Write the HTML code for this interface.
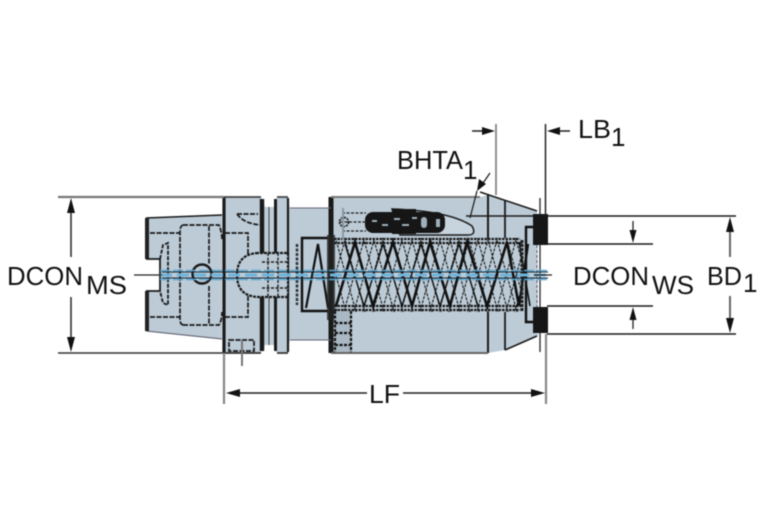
<!DOCTYPE html>
<html><head><meta charset="utf-8">
<style>
html,body{margin:0;padding:0;background:#fff;width:767px;height:523px;overflow:hidden}
svg{display:block;filter:blur(.45px)}
text{font-family:"Liberation Sans",sans-serif;fill:#111;font-size:26px}
</style></head><body>
<svg width="767" height="523" viewBox="0 0 767 523" xmlns="http://www.w3.org/2000/svg">
<defs>
<pattern id="h" x="336" y="240" width="38" height="68" patternUnits="userSpaceOnUse">
<rect width="38" height="68" fill="#bccbd6"/>
<g fill="none" stroke="#1a1a1a" stroke-width="1.1" stroke-dasharray="3 1.2">
<path d="M-19 68 L0 0 L19 68 L38 0 L57 68"/>
<path d="M-19 0 L0 68 L19 0 L38 68 L57 0"/>
<path d="M-10 68 L9 0 L28 68 L47 0"/>
<path d="M-10 0 L9 68 L28 0 L47 68"/>
</g>
</pattern>
</defs>
<!-- body fills -->
<g fill="#bccbd6">
<path d="M146 218 L222 215 L222 339 L146 331 L146 291 L160 291 L160 259 L146 259 Z"/>
<path d="M223 197 L261 197 L265 207 L274 207 L277 197 L287 197 L290 208 L331 208 L331 197 L480 197 L488 195 L537 211 L538 336 L505 350 L488 353 L331 353 L331 340 L290 340 L287 353 L277 353 L274 345 L265 345 L261 353 L223 353 Z"/>
</g>
<!-- collet outline -->
<g fill="none" stroke="#1a1a1a">
<path d="M146 218 L222 215" stroke-width="1.5"/>
<path d="M146 331 L222 339" stroke-width="1" stroke="#556"/>
<path d="M147 218 V259 M147 291 V331" stroke-width="4" stroke="#222"/>
<path d="M146 259 H160 V291 H146" stroke-width="1.8"/>
<path d="M160 259 L163 245 L168 243 V305 L163 303 L160 291" stroke-width="1.8" stroke-dasharray="4 1.5"/>
<path d="M224 197 V353" stroke-width="3.2"/>
<path d="M262 199 V351" stroke-width="4.4"/>
<path d="M275.500 199 V351" stroke-width="3"/>
<path d="M288 198 V352" stroke-width="2.2"/>
<path d="M269 207 V345" stroke-width="1" stroke="#444"/>
<path d="M331 197 V353" stroke-width="5"/>
<path d="M488 194 V353" stroke-width="2"/>
<path d="M505 200 V350" stroke-width="1.8"/>
<path d="M540 198 V352" stroke-width="1.4" stroke="#333"/>
<path d="M331 197 H480" stroke-width="2" stroke="#777"/>
<path d="M331 353 H488" stroke-width="2" stroke="#666"/>
<path d="M223 197 H261 M277 197 H288" stroke-width="1.8" stroke="#444"/>
<path d="M223 353 H261 M277 353 H288" stroke-width="1.8" stroke="#333"/>
<path d="M480 192 L537 211" stroke-width="1.6"/>
<path d="M505 350 L537 336" stroke-width="1.6"/>
<path d="M290 208 H331" stroke-width="1" stroke="#667"/>
<path d="M290 340 H331" stroke-width="1" stroke="#667"/>
</g>
<!-- dashed internals left -->
<g fill="none" stroke="#1a1a1a" stroke-width="1.7" stroke-dasharray="5 1.5">
<path d="M183 225 H219 Q222 232 222 240 M183 325 H219 Q222 320 222 312 M183 225 Q180 226 180 232 V319 Q180 325 184 325"/>
<path d="M209 226 V264 M209 286 V325 M150 233 H180 M150 317 H180"/>
<path d="M225 233 H248 V254 M225 317 H248 V296"/>
<path d="M237 214 H258 M237 214 Q244 224 262 225"/>
<path d="M229 340 H254 V351 H229 Z"/>
</g>
<circle cx="202" cy="274" r="9.5" fill="none" stroke="#1a1a1a" stroke-width="2.4"/>
<path d="M258 253 Q237 254 237 275 Q237 296 258 297 H288 V253 Z" fill="#bccbd6" stroke="#1a1a1a" stroke-width="2.2" stroke-dasharray="3 1"/>
<path d="M268 253 V297 M278 253 V297 M262 262 H288 M262 288 H288" fill="none" stroke="#222" stroke-width="1.4" stroke-dasharray="3 1.5"/>
<path d="M242 340 V366" stroke="#777" stroke-width="2"/>
<!-- spring start in neck -->
<path d="M328 238 H302 V311 H328" fill="none" stroke="#111" stroke-width="2.4"/>
<path d="M297 244 V305" stroke="#333" stroke-width="2.5" stroke-dasharray="3 1.5"/>
<path d="M306 308 L318 244 L328 308" fill="none" stroke="#111" stroke-width="2.2"/>
<rect x="327" y="235" width="8" height="85" fill="#222" opacity=".8"/>
<!-- coil band -->
<rect x="336" y="238" width="186" height="74" fill="url(#h)"/>
<g fill="none" stroke="#1a1a1a" stroke-dasharray="2.5 1">
<path d="M334 239 H520 M334 243 H522 M334 306 H522 M334 310 H520" stroke-width="2.2"/>
</g>
<path d="M336 306 L355 242 L373 306 L393 242 L412 306 L430 242 L450 306 L467 242 L487 306 L507 242 L519 306" fill="none" stroke="#111" stroke-width="2.6"/>
<path d="M345 244 L364 306 L383 244 L402 306 L421 244 L440 306 L459 244 L478 306" fill="none" stroke="#111" stroke-width="1.4"/>
<path d="M519 306 L528 244" stroke="#111" stroke-width="2.4"/>
<path d="M519 242 L530 306" stroke="#111" stroke-width="1.6"/>
<!-- right spring end -->
<path d="M534 227 H526 V322 H534" fill="none" stroke="#111" stroke-width="2.4"/>
<path d="M522 240 V312" stroke="#222" stroke-width="3" stroke-dasharray="3 1"/>
<rect x="533" y="214" width="15" height="31" fill="#161616"/>
<rect x="533" y="307" width="15" height="26" fill="#161616"/>
<path d="M537 245 V307" stroke="#556" stroke-width="1" stroke-dasharray="3 2"/>
<!-- top pocket -->
<path d="M392 209 Q450 211 472 226 Q477 235 468 235 H400 Z" fill="#c7d4de" stroke="#1a1a1a" stroke-width="1.5"/>
<rect x="365" y="212" width="80" height="21" rx="8" fill="#161616"/>
<rect x="392" y="209" width="24" height="25" fill="#161616"/>
<g fill="#9fb0bc"><rect x="372" y="220" width="5" height="2"/><rect x="382" y="224" width="6" height="2"/><rect x="394" y="218" width="6" height="2"/><rect x="402" y="224" width="7" height="2"/><rect x="412" y="217" width="5" height="2"/><rect x="421" y="217" width="6" height="11" rx="3"/><rect x="436" y="219" width="4" height="8"/></g>
<path d="M340 222 H366 M342 213 H366 M342 231 H366" stroke="#222" stroke-width="1.3" stroke-dasharray="3 1.5"/>
<circle cx="344" cy="222" r="4.500" fill="none" stroke="#222" stroke-width="1.8" stroke-dasharray="2 1"/>
<path d="M343 208 V240" stroke="#8899a5" stroke-width="2"/>
<!-- bottom left pocket -->
<rect x="334" y="311" width="18" height="41" fill="#a9b8c3"/>
<path d="M335 311 V352 M351 311 V352 M335 323 H351 M335 333 H351 M335 345 H351" stroke="#111" stroke-width="2.2" stroke-dasharray="3 1.5"/>
<!-- centre line -->
<path d="M160 270.500 H548 M160 279.500 H548" stroke="#5aa5d0" stroke-width="1.5" stroke-dasharray="10 3"/>
<path d="M160 275 H548" stroke="#6fb3da" stroke-width="3" stroke-dasharray="12 5"/>
<path d="M162 272 H548 M162 278 H548" stroke="#14242f" stroke-width="1.1"/>
<path d="M134 275 H162 M534 275 H552" stroke="#222" stroke-width="1.2"/>
<!-- dimensions -->
<path d="M58 197 H224" stroke="#777" stroke-width="2.2"/>
<path d="M58 353 H224" stroke="#333" stroke-width="1.6"/>
<path d="M71 205 V257 M71 297 V345" stroke="#333" stroke-width="1.6"/>
<path d="M71 198 l-4 15 h8 z M71 352 l-4 -15 h8 z" fill="#111"/>
<path d="M224 353 V404" stroke="#888" stroke-width="2.2"/>
<path d="M546 334 V404" stroke="#888" stroke-width="2.2"/>
<path d="M545.500 124 V216" stroke="#222" stroke-width="1.5"/>
<path d="M496 124 V195" stroke="#777" stroke-width="1.6"/>
<path d="M230 393 H367 M403 393 H540" stroke="#222" stroke-width="1.4"/>
<path d="M226 393 l14 -4 v8 z M545 393 l-14 -4 v8 z" fill="#111"/>
<path d="M472 131 H485 M570 131 H555" stroke="#222" stroke-width="1.4"/>
<path d="M495 131 l-13 -4 v8 z M547 131 l13 -4 v8 z" fill="#111"/>
<path d="M466 216 H736 M547 244 H653 M547 306 H653 M547 334 H736" stroke="#1a1a1a" stroke-width="1.6"/>
<path d="M633 221 V232 M633 329 V318" stroke="#222" stroke-width="1.3"/>
<path d="M633 243 l-3.500 -13 h7 z M633 307 l-3.500 13 h7 z" fill="#111"/>
<path d="M730 225 V257 M730 296 V325" stroke="#666" stroke-width="2"/>
<path d="M730 217 l-4 15 h8 z M730 333 l-4 -15 h8 z" fill="#111"/>
<path d="M490 173 L481 186 M477 191 L470 218" stroke="#222" stroke-width="1.3" fill="none"/>
<path d="M477 191 l2 -12 l7 5 z" fill="#111"/>
<!-- labels -->
<text x="7" y="285" textLength="76" lengthAdjust="spacingAndGlyphs">DCON</text>
<text x="86" y="294" textLength="41" lengthAdjust="spacingAndGlyphs">MS</text>
<text x="573" y="285" textLength="76" lengthAdjust="spacingAndGlyphs">DCON</text>
<text x="652" y="294" textLength="42" lengthAdjust="spacingAndGlyphs">WS</text>
<text x="707" y="285" textLength="35" lengthAdjust="spacingAndGlyphs">BD</text>
<text x="743" y="292">1</text>
<text x="369" y="403" textLength="31" lengthAdjust="spacingAndGlyphs">LF</text>
<text x="397" y="169" textLength="66" lengthAdjust="spacingAndGlyphs">BHTA</text>
<text x="463" y="179">1</text>
<text x="578" y="138" textLength="33" lengthAdjust="spacingAndGlyphs">LB</text>
<text x="611" y="146">1</text>
</svg>
</body></html>
